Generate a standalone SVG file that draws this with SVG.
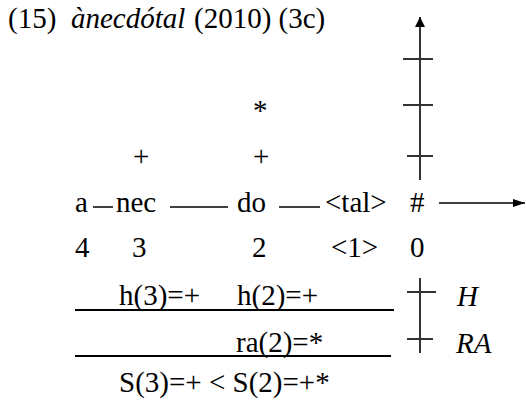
<svg xmlns="http://www.w3.org/2000/svg" width="526" height="405" viewBox="0 0 526 405">
<style>
text{font-family:"Liberation Serif","Times New Roman",serif;font-size:29px;fill:#000}
.i{font-style:italic}
.ln{stroke:#000;stroke-width:1.5;fill:none}
.ax{stroke:#333;stroke-width:2;fill:none}
.ul{stroke:#000;stroke-width:2.2;fill:none}
</style>
<defs>
<marker id="ah" viewBox="0 0 12 10" refX="12" refY="5" markerWidth="12" markerHeight="10" markerUnits="userSpaceOnUse" orient="auto">
<path d="M0,1 L12,5 L0,9 z" fill="#000"/>
</marker>
<marker id="ahv" viewBox="0 0 10 10" refX="10" refY="5" markerWidth="10" markerHeight="10" markerUnits="userSpaceOnUse" orient="auto">
<path d="M0,0 L10,5 L0,10 z" fill="#000"/>
</marker>
</defs>
<rect width="526" height="405" fill="#fff"/>
<g id="title"><text y="28"><tspan x="8">(15)</tspan><tspan class="i" x="71">ànecdótal</tspan><tspan x="194">(2010) (3c)</tspan></text></g>
<g id="marks">
<text x="253" y="120">*</text>
<text x="133" y="166">+</text>
<text x="253" y="166">+</text>
</g>
<g id="syl-a"><text x="75" y="212">a</text><text x="75" y="257">4</text></g>
<g id="syl-nec"><text x="116" y="212">nec</text><text x="132" y="257">3</text></g>
<g id="syl-do"><text x="237" y="212">do</text><text x="252" y="257">2</text></g>
<g id="syl-tal"><text x="325" y="212">&lt;tal&gt;</text><text x="331" y="257">&lt;1&gt;</text></g>
<g id="boundary"><text x="410" y="212">#</text><text x="410" y="257">0</text></g>
<g id="rows">
<text x="119" y="305">h(3)=+</text>
<text x="237" y="305">h(2)=+</text>
<text x="236" y="352">ra(2)=*</text>
<text x="119" y="392">S(3)=+ &lt; S(2)=+*</text>
<text class="i" x="457" y="306">H</text>
<text class="i" x="456" y="353">RA</text>
</g>
<g id="connectors">
<line class="ln" x1="93" y1="207" x2="113" y2="207"/>
<line class="ln" x1="170" y1="207" x2="228" y2="207"/>
<line class="ln" x1="279" y1="207" x2="320" y2="207"/>
<line class="ln" x1="439" y1="203" x2="525" y2="203" marker-end="url(#ah)"/>
<line class="ax" x1="420" y1="180" x2="420" y2="17" marker-end="url(#ahv)"/>
<line class="ax" x1="403" y1="59" x2="433" y2="59"/>
<line class="ax" x1="403" y1="105" x2="433" y2="105"/>
<line class="ax" x1="407" y1="156" x2="433" y2="156"/>
<line class="ax" x1="420" y1="278" x2="420" y2="353"/>
<line class="ax" x1="407" y1="292" x2="436" y2="292"/>
<line class="ax" x1="407" y1="339" x2="433" y2="339"/>
<line class="ul" x1="75" y1="310" x2="394" y2="310"/>
<line class="ul" x1="75" y1="356" x2="391" y2="356"/>
</g>
</svg>
